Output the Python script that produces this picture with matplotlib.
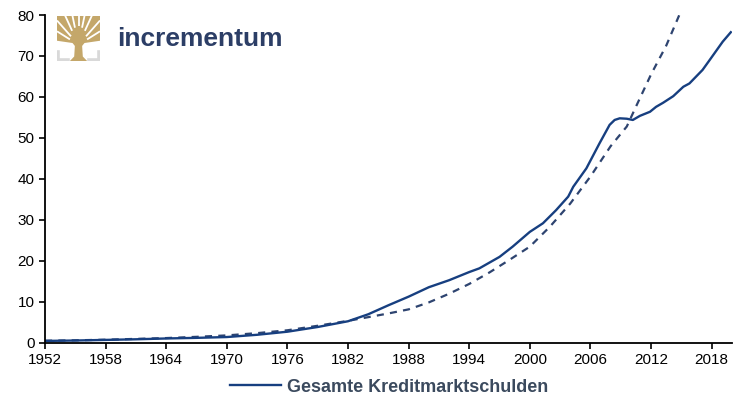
import matplotlib
matplotlib.use("Agg")
import matplotlib.pyplot as plt
from matplotlib.lines import Line2D
from matplotlib.patches import Polygon

# ---- data ---------------------------------------------------------------
years_debt = [1952, 1955, 1958, 1961, 1964, 1967, 1970, 1973, 1976, 1979,
              1982, 1984, 1986, 1988, 1990, 1992, 1994, 1995, 1997, 1998.3,
              2000, 2001.3, 2002.6, 2003.8, 2004.3, 2005.6, 2006.9, 2007.9,
              2008.4, 2008.9, 2009.6, 2010.2, 2010.9, 2011.9, 2012.5, 2013.2,
              2014.2, 2015.2, 2015.8, 2017.1, 2017.8, 2019.1, 2019.9]
debt_total = [0.5, 0.6, 0.75, 0.9, 1.1, 1.25, 1.45, 2.0, 2.75, 3.9,
              5.3, 7.0, 9.2, 11.3, 13.6, 15.3, 17.3, 18.2, 21.0, 23.5,
              27.1, 29.2, 32.4, 35.7, 38.1, 42.6, 48.7, 53.2,
              54.4, 54.8, 54.7, 54.4, 55.4, 56.4, 57.6, 58.6,
              60.2, 62.5, 63.3, 66.6, 69.0, 73.5, 75.8]

years_trend = [1952, 1955, 1958, 1961, 1964, 1967, 1970, 1973, 1976, 1979,
               1982, 1984, 1986, 1988, 1990, 1992, 1994, 1996, 1998, 2000,
               2002, 2004, 2006, 2008, 2009.6, 2010.5, 2012, 2013.5, 2014.8]
debt_trend = [0.55, 0.65, 0.8, 1.0, 1.2, 1.5, 1.85, 2.4, 3.1, 4.2,
              5.4, 6.3, 7.2, 8.2, 9.9, 12.0, 14.4, 17.2, 20.3, 23.5,
              28.4, 34.0, 40.6, 48.0, 52.8, 57.6, 65.5, 72.5, 80.0]

x_ticks = list(range(1952, 2019, 6))
y_ticks = list(range(0, 81, 10))

LINE = "#173f80"
TREND = "#2e4470"
LEGEND_TXT = "#3b4a5e"
GOLD = "#c4a76a"
BRACKET = "#d9d9d9"
LOGO_TXT = "#2c3e66"

plt.rcParams["font.family"] = ["Liberation Sans", "DejaVu Sans"]

fig = plt.figure(figsize=(7.33, 3.99), dpi=100)
ax = fig.add_axes([0.0614, 0.1404, 0.937, 0.822])

ax.plot(years_trend, debt_trend, color=TREND, lw=1.6, ls=(0, (3.2, 2.8)))
ax.plot(years_debt, debt_total, color=LINE, lw=1.7)

ax.set_xlim(1952, 2020)
ax.set_ylim(0, 80)
ax.set_xticks(x_ticks)
ax.set_yticks(y_ticks)
ax.tick_params(direction="out", length=4, width=1.2, labelsize=11, colors="black")
for side in ("top", "right"):
    ax.spines[side].set_visible(False)
for side in ("left", "bottom"):
    ax.spines[side].set_linewidth(1.3)

handle = Line2D([], [], color=LINE, lw=1.7)
leg = fig.legend([handle], ["Gesamte Kreditmarktschulden"], loc="center",
                 bbox_to_anchor=(0.531, 0.03), frameon=False, handlelength=2.8,
                 handletextpad=0.35, prop={"size": 13, "weight": "bold"})
for t in leg.get_texts():
    t.set_color(LEGEND_TXT)

# ---- logo: gold tree over grey brackets ---------------------------------
lg = fig.add_axes([57 / 733, 1 - 61 / 399, 43 / 733, 45 / 399])
lg.set_xlim(0, 1)
lg.set_ylim(0, 1)
lg.axis("off")
crown = [(0, 1), (1, 1), (1, 0.45), (0.64, 0.4), (0.57, 0.32),
         (0.43, 0.32), (0.36, 0.4), (0, 0.45)]
lg.add_patch(Polygon(crown, closed=True, color=GOLD, lw=0))
lg.add_patch(Polygon([(0.3, 0.0), (0.7, 0.0), (0.6, 0.1), (0.58, 0.4),
                      (0.42, 0.4), (0.4, 0.1)], closed=True, color=GOLD, lw=0))
cx, cy = 0.5, 0.36
gaps = [(0.0, 0.9, 0.35), (0.0, 0.66, 0.4), (0.17, 1.05, 0.45),
        (0.35, 1.05, 0.55), (0.5, 1.05, 0.62), (0.65, 1.05, 0.55),
        (0.83, 1.05, 0.45), (1.0, 0.9, 0.35), (1.0, 0.66, 0.4)]
for tx, ty, t0 in gaps:
    x0, y0 = cx + t0 * (tx - cx), cy + t0 * (ty - cy)
    lg.plot([x0, tx], [y0, ty], color="white", lw=1.3, solid_capstyle="butt")
lg.plot([0.03, 0.03, 0.25], [0.2, 0.03, 0.03], color=BRACKET, lw=2.6,
        solid_joinstyle="miter")
lg.plot([0.97, 0.97, 0.75], [0.2, 0.03, 0.03], color=BRACKET, lw=2.6,
        solid_joinstyle="miter")
fig.text(117 / 733, 1 - 39 / 399, "incrementum", fontsize=19, fontweight="bold",
         color=LOGO_TXT, ha="left", va="center")

fig.savefig("out.png", dpi=100)
